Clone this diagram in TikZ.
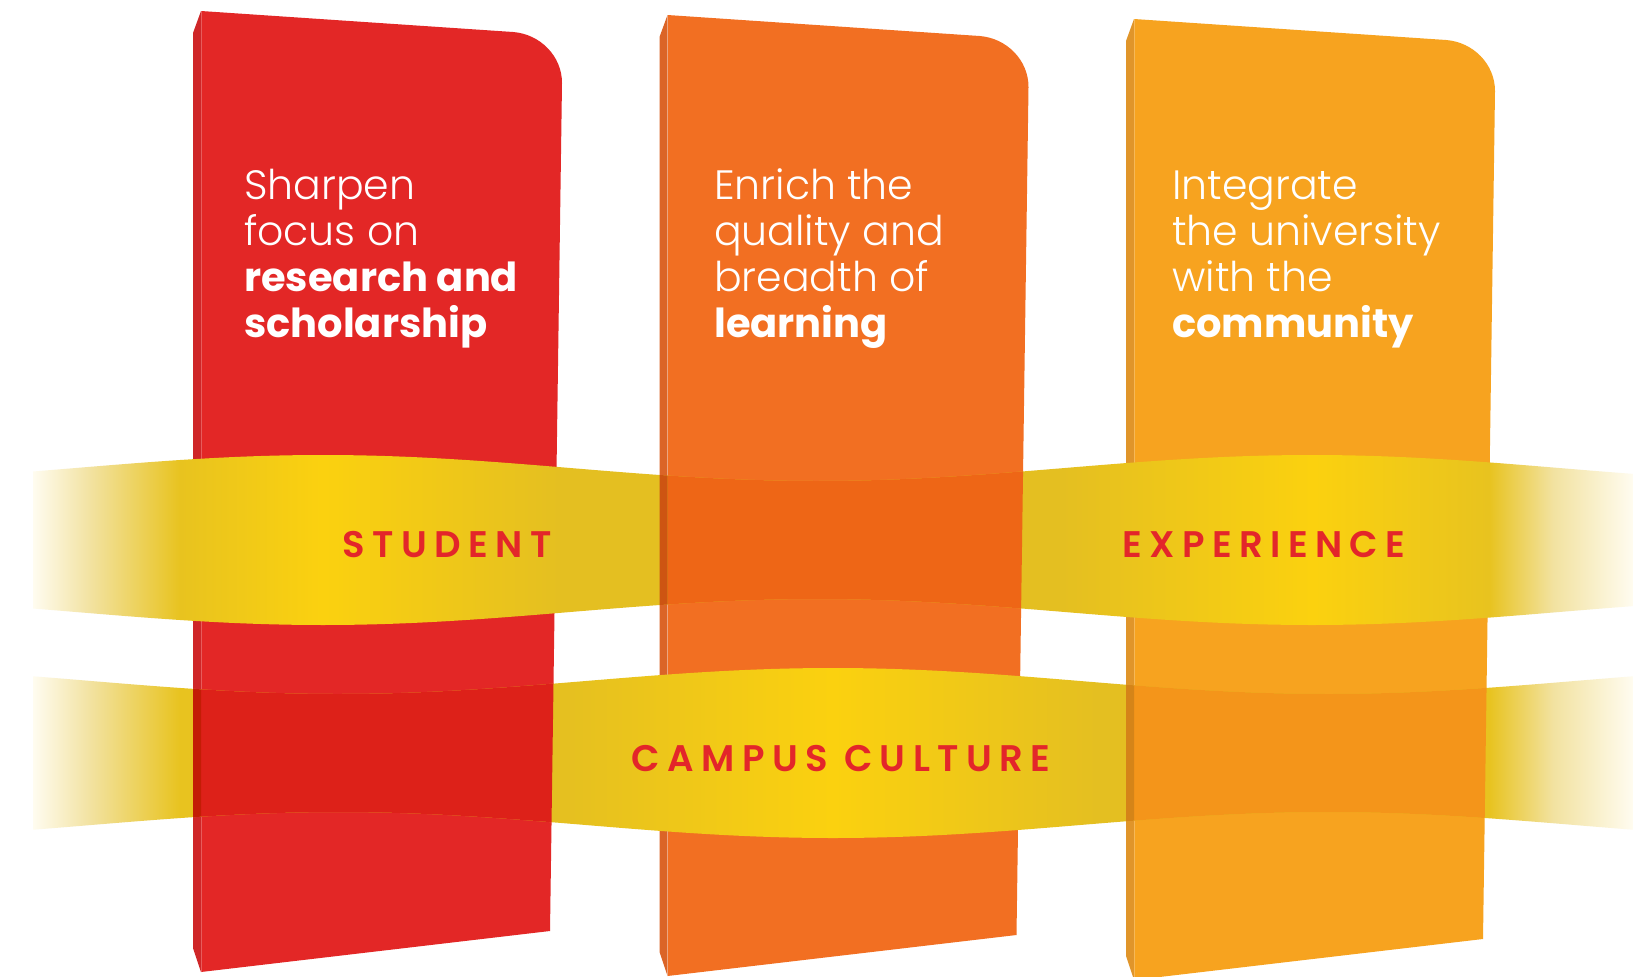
\documentclass[tikz,border=0pt]{standalone}
\usepackage{fontspec}
\newfontfamily\lightf{Poppins Light}
\newfontfamily\boldf{Poppins Bold}
\newfontfamily\capsf[LetterSpace=20]{Poppins SemiBold}
\newcommand\bw[1]{{\boldf\fontsize{40}{46}\selectfont #1}}
\definecolor{pred}{HTML}{E32726}
\definecolor{predS}{HTML}{CF2628}
\definecolor{predD}{HTML}{DD2119}
\definecolor{predSD}{HTML}{C31D05}
\definecolor{porg}{HTML}{F26F22}
\definecolor{porgS}{HTML}{DB6427}
\definecolor{porgD}{HTML}{EE6616}
\definecolor{porgSD}{HTML}{CD5412}
\definecolor{pamb}{HTML}{F7A31F}
\definecolor{pambS}{HTML}{E0952A}
\definecolor{pambD}{HTML}{F4951A}
\definecolor{pambSD}{HTML}{D58418}
\definecolor{rpale}{HTML}{FFFCF0}
\definecolor{rfade}{HTML}{F2E2A0}
\definecolor{rgold}{HTML}{E8C31F}
\definecolor{rbright}{HTML}{FBD10F}
\definecolor{rdark}{HTML}{E4BF21}
\definecolor{labelred}{HTML}{E3262A}
\pgfdeclarehorizontalshading{toprib}{100bp}{color(0bp)=(rpale); color(25bp)=(rpale); color(26.8bp)=(rfade); color(29.6bp)=(rgold); color(34.06bp)=(rbright); color(41.5bp)=(rdark); color(57.1bp)=(rdark); color(65bp)=(rbright); color(70.5bp)=(rgold); color(72.5bp)=(rfade); color(75bp)=(rpale); color(100bp)=(rpale)}
\pgfdeclarehorizontalshading{botrib}{100bp}{color(0bp)=(rpale); color(25bp)=(rpale); color(26.8bp)=(rfade); color(29.6bp)=(rgold); color(41.2bp)=(rdark); color(50bp)=(rbright); color(58.3bp)=(rdark); color(70.5bp)=(rgold); color(72.5bp)=(rfade); color(75bp)=(rpale); color(100bp)=(rpale)}
\newcommand\pface[2]{({201+#1},{11+#2}) -- ({513+#1},{32+#2}) .. controls ({540+#1},{34+#2}) and ({562+#1},{56+#2}) .. ({562+#1},{83+#2}) -- ({550+#1},{931+#2}) -- ({201+#1},{972+#2}) -- cycle}
\newcommand\pstrip[2]{({193+#1},{33+#2}) -- ({201+#1},{11+#2}) -- ({201+#1},{972+#2}) -- ({193+#1},{948+#2}) -- cycle}
\newcommand\topribbon{plot[domain=33:1633,samples=81,smooth] (\x,{468-13*cos((\x-323)*0.36401)}) -- plot[domain=1633:33,samples=81,smooth] (\x,{612+13*cos((\x-323)*0.36401)}) -- cycle}
\newcommand\botribbon{plot[domain=33:1633,samples=81,smooth] (\x,{681-13*cos((\x-833)*0.36401)}) -- plot[domain=1633:33,samples=81,smooth] (\x,{825+13*cos((\x-833)*0.36401)}) -- cycle}
\begin{document}
\begin{tikzpicture}[x=1pt,y=-1pt,
  paneltext/.style={text=white, font=\lightf\fontsize{41}{46}\selectfont, align=left, inner sep=0pt, anchor=base west},
  ribbontext/.style={text=labelred, font=\capsf\fontsize{37}{40}\selectfont, inner sep=0pt, anchor=base}]
\useasboundingbox (0,0) rectangle (1633,977);
\fill[white] (0,0) rectangle (1633,977);
% panels
\foreach \dx/\dy/\c/\s in {0/0/pred/predS, 466.5/4/porg/porgS, 933/8/pamb/pambS}{
  \fill[\c] \pface{\dx}{\dy};
  \fill[\s] \pstrip{\dx}{\dy};
  \draw[white, opacity=0.25, line width=1pt] ({201+\dx},{11+\dy}) -- ({201+\dx},{972+\dy});
}
% top ribbon: over panels 1 and 3, under panel 2
\shade[shading=toprib] \topribbon;
\begin{scope}
  \clip \pface{466.5}{4};
  \fill[porgD] \topribbon;
\end{scope}
\begin{scope}
  \clip \pstrip{466.5}{4};
  \fill[porgSD] \topribbon;
\end{scope}
% bottom ribbon: over panel 2, under panels 1 and 3
\shade[shading=botrib] \botribbon;
\begin{scope}
  \clip \pface{0}{0};
  \fill[predD] \botribbon;
\end{scope}
\begin{scope}
  \clip \pstrip{0}{0};
  \fill[predSD] \botribbon;
\end{scope}
\begin{scope}
  \clip \pface{933}{8};
  \fill[pambD] \botribbon;
\end{scope}
\begin{scope}
  \clip \pstrip{933}{8};
  \fill[pambSD] \botribbon;
\end{scope}
% panel texts (anchor is the baseline of the last line)
\node[paneltext] (t1) at (244,337) {Sharpen\\focus on\\\bw{research and}\\\bw{scholarship}};
\node[paneltext] (t2) at (714,337) {Enrich the\\quality and\\breadth of\\\bw{learning}};
\node[paneltext] (t3) at (1172,337) {Integrate\\the university\\with the\\\bw{community}};
% ribbon labels
\node[ribbontext] (student) at (447,557) {STUDENT};
\node[ribbontext] (experience) at (1264,557) {EXPERIENCE};
\node[ribbontext] (campus) at (841,771) {CAMPUS CULTURE};
\end{tikzpicture}
\end{document}
